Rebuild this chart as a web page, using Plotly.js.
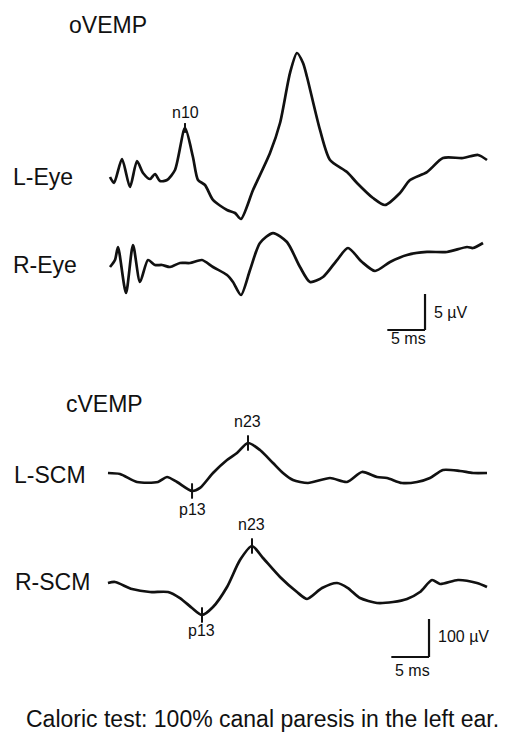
<!DOCTYPE html>
<html>
<head>
<meta charset="utf-8">
<script src="https://cdn.plot.ly/plotly-3.0.1.min.js"></script>
<style>html,body{margin:0;padding:0;background:#fff;}#chart{width:512px;height:734px;}</style>
</head>
<body>
<div id="chart"></div>
<script>
// ---- Data (time in ms, amplitude in µV) ----
const lEyeT = [0,0.53,1.59,2.65,3.58,4.38,5.31,5.97,6.63,7.56,8.62,9.95,11.0,11.67,12.6,13.66,15.52,16.58,17.37,18.97,21.22,22.55,23.87,24.8,25.6,26.13,27.85,29.18,31.43,32.76,34.88,36.47,38.46,39.79,42.04,44.16,46.82,48.81,50.0];
const lEyeV = [0,-0.83,2.5,-1.39,2.22,0.56,-0.28,0.42,-0.56,-0.42,0.97,6.81,2.78,-0.42,-1.11,-3.19,-4.58,-5.0,-5.83,-1.81,3.33,7.5,14.44,17.22,15.83,13.89,6.53,2.36,0.69,-0.83,-2.92,-3.89,-2.22,-0.42,0.69,2.64,2.64,3.06,2.36];

const rEyeT = [0,0.66,1.06,2.12,3.05,3.98,5.04,5.97,6.9,7.96,9.28,10.61,12.2,13.66,15.52,16.31,17.37,18.57,19.89,21.62,23.47,25.2,26.53,28.25,30.11,31.56,33.42,35.15,37.14,39.39,42.04,44.69,47.35,48.14,49.47];
const rEyeV = [-0.28,0.69,2.5,-3.89,2.78,-2.36,0.69,0,0,-0.28,0.28,0.28,0.69,-0.28,-1.39,-2.36,-4.17,-0.69,3.06,4.44,3.19,-0.28,-2.36,-1.67,0.69,2.36,0.42,-0.83,0.42,1.39,1.81,1.81,2.5,2.36,3.06];

const lScmT = [-0.27,1.33,3.58,6.37,7.56,8.89,10.88,11.94,13.66,15.52,16.84,18.3,19.89,21.62,22.94,24.27,26.26,29.18,31.43,33.42,35.41,36.74,38.73,40.72,42.44,44.16,46.42,48.14,50.0];
const lScmV = [2.6,0,-21,-21,-7.9,-21,-44.7,-36.8,2.6,36.8,55.3,81.6,63.2,28.9,2.6,-15.8,-23.7,-10.5,-21,5.3,-7.9,-10.5,-23.7,-21,-10.5,10.5,7.9,2.6,2.6];

const rScmT = [-0.27,0.66,2.92,5.31,7.69,9.28,10.88,12.2,13.66,15.52,17.24,18.83,20.29,22.55,24.8,26.13,28.12,30.11,31.56,33.16,35.41,37.53,39.39,41.11,42.71,43.77,46.15,48.67,50.0];
const rScmV = [0,2.6,-15.8,-23.7,-23.7,-39.5,-65.8,-84.2,-63.2,-10.5,60.5,97.4,65.8,15.8,-23.7,-42.1,-13.2,0,-13.2,-39.5,-52.6,-50,-42.1,-23.7,7.9,-2.6,7.9,0,-10.5];

// Peak markers
const n10Peak = {t: 9.95, v: 6.81};
const lScmPeaksT = [10.88, 18.3];
const lScmPeaksV = [-44.7, 81.6];
const rScmPeaksT = [12.2, 18.83];
const rScmPeaksV = [-84.2, 97.4];
const peakNames = ["p13", "n23"];

// Scale bars
const oScaleMs = 5, oScaleUv = 5;
const cScaleMs = 5, cScaleUv = 100;

// Labels
const rowLabels = ["L-Eye", "R-Eye", "L-SCM", "R-SCM"];
const sectionLabels = ["oVEMP", "cVEMP"];
const caption = "Caloric test: 100% canal paresis in the left ear.";

// ---- Layout geometry ----
const W = 512, H = 734;
const xPxPerMs = 7.54, xOriginPx = 110;
const xRange = [-xOriginPx / xPxPerMs, (W - xOriginPx) / xPxPerMs];
function yRange(basePx, pxPerUnit) {
  return [-(H - basePx) / pxPerUnit, basePx / pxPerUnit];
}
const oScale = 7.2, cScale = 0.38;
const ink = '#111';

const lineStyle = {color: ink, width: 2.7, shape: 'spline', smoothing: 0.7};
function tickMarker(size) {
  return {symbol: 'line-ns-open', size: size, color: ink, line: {color: ink, width: 2}};
}
const traces = [
  {x: lEyeT, y: lEyeV, yaxis: 'y', mode: 'lines', line: lineStyle},
  {x: rEyeT, y: rEyeV, yaxis: 'y2', mode: 'lines', line: lineStyle},
  {x: lScmT, y: lScmV, yaxis: 'y3', mode: 'lines', line: lineStyle},
  {x: rScmT, y: rScmV, yaxis: 'y4', mode: 'lines', line: lineStyle},
  {x: [n10Peak.t], y: [n10Peak.v], yaxis: 'y', mode: 'markers', marker: tickMarker(7)},
  {x: lScmPeaksT, y: lScmPeaksV, yaxis: 'y3', mode: 'markers', marker: tickMarker(11)},
  {x: rScmPeaksT, y: rScmPeaksV, yaxis: 'y4', mode: 'markers', marker: tickMarker(11)}
];

const hid = {visible: false, fixedrange: true};
const font = "Liberation Sans, Arial, sans-serif";
const big = {family: font, size: 23, color: ink};
const small = {family: font, size: 16, color: ink};

function paperLabel(text, leftPx, yPx, f, anchor) {
  return {text: text, xref: 'paper', yref: 'paper', x: leftPx / W, y: 1 - yPx / H,
          xanchor: anchor || 'left', yanchor: 'middle', showarrow: false, font: f};
}
function peakLabel(text, t, v, yref, shift) {
  return {text: text, xref: 'x', yref: yref, x: t, y: v, yshift: shift,
          xanchor: 'center', yanchor: 'middle', showarrow: false, font: small};
}

// scale bar corners (ms, µV on given axes)
const oCornerT = 41.78, oCornerV = -9.03;    // on y2
const cCornerT = 42.31, cCornerV = -194.7;   // on y4

const shapes = [
  {type: 'line', xref: 'x', yref: 'y2', x0: oCornerT - oScaleMs, x1: oCornerT, y0: oCornerV, y1: oCornerV, line: {color: ink, width: 2.2}},
  {type: 'line', xref: 'x', yref: 'y2', x0: oCornerT, x1: oCornerT, y0: oCornerV, y1: oCornerV + oScaleUv, line: {color: ink, width: 2.2}},
  {type: 'line', xref: 'x', yref: 'y4', x0: cCornerT - cScaleMs, x1: cCornerT, y0: cCornerV, y1: cCornerV, line: {color: ink, width: 2.2}},
  {type: 'line', xref: 'x', yref: 'y4', x0: cCornerT, x1: cCornerT, y0: cCornerV, y1: cCornerV + cScaleUv, line: {color: ink, width: 2.2}}
];

const annotations = [
  paperLabel(sectionLabels[0], 67, 25, big),
  paperLabel(rowLabels[0], 11, 177, big),
  paperLabel(rowLabels[1], 11, 265, big),
  paperLabel(sectionLabels[1], 64, 404, big),
  paperLabel(rowLabels[2], 12, 475, big),
  paperLabel(rowLabels[3], 13, 582, big),
  paperLabel(caption, 262, 719, big, 'center'),
  peakLabel("n10", n10Peak.t, n10Peak.v, 'y', 15),
  peakLabel(peakNames[0], lScmPeaksT[0], lScmPeaksV[0], 'y3', -19),
  peakLabel(peakNames[1], lScmPeaksT[1], lScmPeaksV[1], 'y3', 21),
  peakLabel(peakNames[0], rScmPeaksT[0], rScmPeaksV[0], 'y4', -15),
  peakLabel(peakNames[1], rScmPeaksT[1], rScmPeaksV[1], 'y4', 21),
  paperLabel(oScaleUv + " µV", 432, 312, small),
  paperLabel(oScaleMs + " ms", 408, 338, small, 'center'),
  paperLabel(cScaleUv + " µV", 436, 636, small),
  paperLabel(cScaleMs + " ms", 412, 670, small, 'center')
];

const layout = {
  width: W, height: H,
  margin: {l: 0, r: 0, t: 0, b: 0, pad: 0},
  paper_bgcolor: '#fff', plot_bgcolor: '#fff',
  showlegend: false,
  xaxis: Object.assign({range: xRange, domain: [0, 1]}, hid),
  yaxis: Object.assign({range: yRange(177, oScale), domain: [0, 1]}, hid),
  yaxis2: Object.assign({range: yRange(265, oScale), overlaying: 'y'}, hid),
  yaxis3: Object.assign({range: yRange(474, cScale), overlaying: 'y'}, hid),
  yaxis4: Object.assign({range: yRange(583, cScale), overlaying: 'y'}, hid),
  shapes: shapes,
  annotations: annotations
};

Plotly.newPlot('chart', traces, layout, {staticPlot: true, displayModeBar: false});
</script>
</body>
</html>
